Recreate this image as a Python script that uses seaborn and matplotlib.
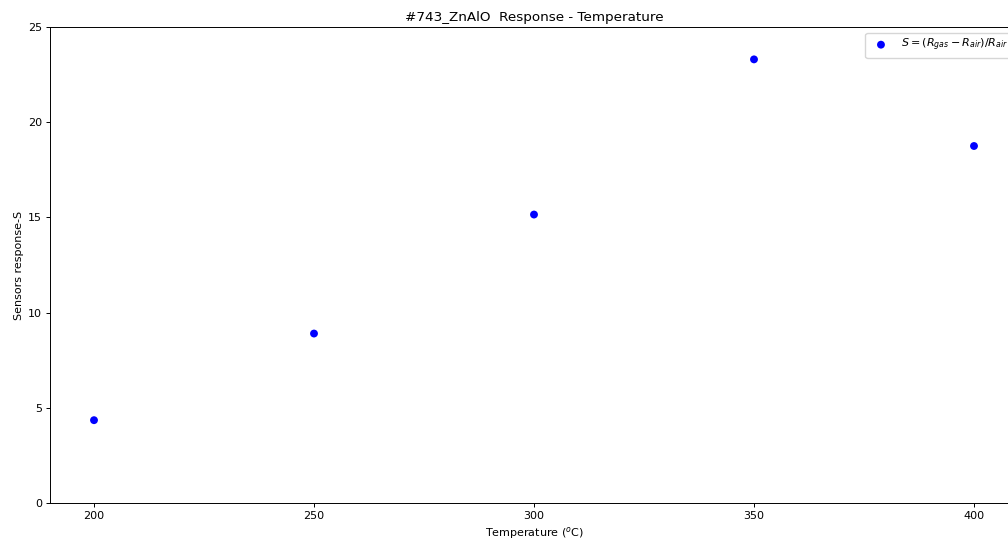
import matplotlib
matplotlib.use("Agg")
import matplotlib.pyplot as plt
import seaborn as sns

temperatures = [200, 250, 300, 350, 400]
responses = [4.35, 8.9, 15.15, 23.3, 18.75]

plt.rcParams["axes.linewidth"] = 0.7
plt.rcParams["xtick.major.width"] = 0.7
plt.rcParams["ytick.major.width"] = 0.7
plt.rcParams["xtick.major.size"] = 2.8
plt.rcParams["ytick.major.size"] = 2.8

fig = plt.figure(figsize=(10.08, 5.4), dpi=100)
ax = fig.add_axes([50 / 1008, 37 / 540, 968 / 1008, 476 / 540])

sns.scatterplot(x=temperatures, y=responses, color="blue", s=32, edgecolor="none",
                label=r"$S=(R_{gas}-R_{air})/R_{air}$", ax=ax)

ax.set_xlim(190, 410)
ax.set_ylim(0, 25)
ax.set_xticks([200, 250, 300, 350, 400])
ax.set_yticks([0, 5, 10, 15, 20, 25])
ax.set_title("#743_ZnAlO  Response - Temperature", fontsize=9.7, pad=4.5)
ax.set_xlabel(r"Temperature ($^o$C)", fontsize=8, labelpad=3)
ax.set_ylabel("Sensors response-S", fontsize=8, labelpad=3)
ax.tick_params(labelsize=8, pad=2.8)
ax.legend(loc="upper right", fontsize=8)

fig.savefig("out.png", dpi=100)
